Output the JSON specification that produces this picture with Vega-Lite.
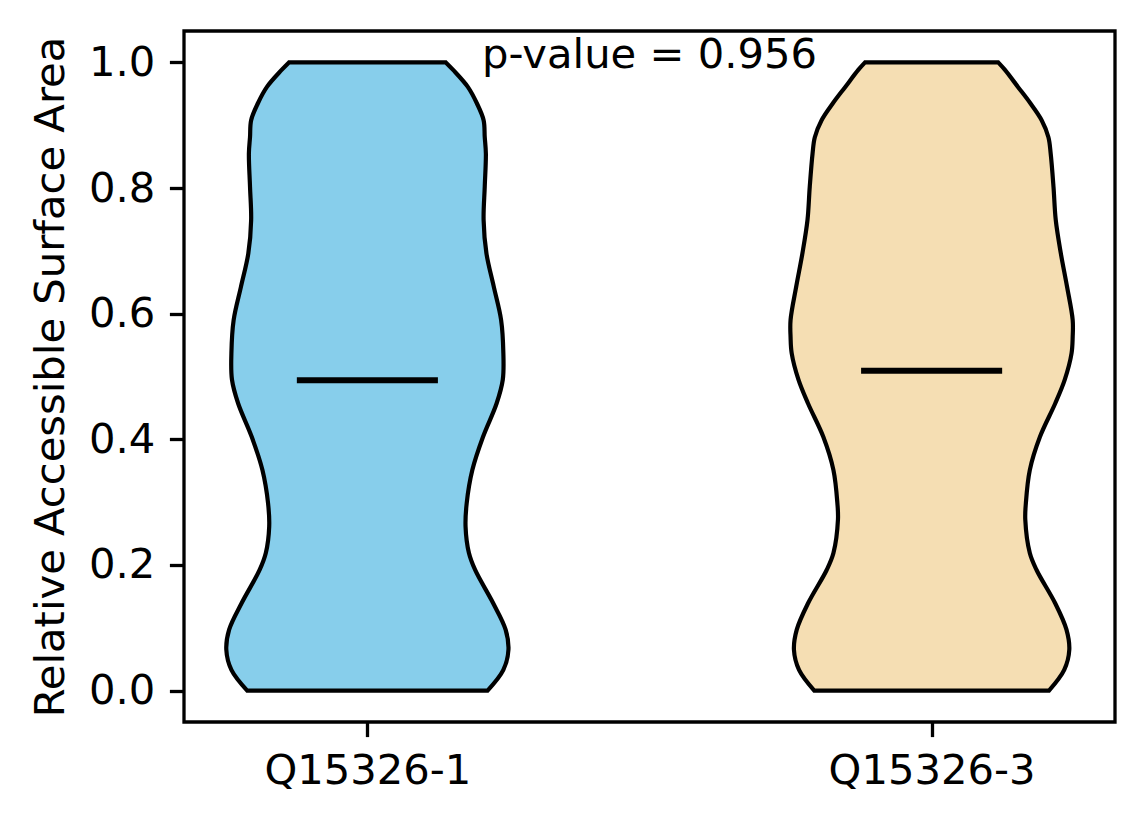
{
  "$schema": "https://vega.github.io/schema/vega-lite/v6.json",
  "width": 931,
  "height": 691,
  "autosize": {"type": "none"},
  "padding": {"left": 184, "top": 31, "right": 29, "bottom": 102},
  "background": "white",
  "config": {
    "view": {"stroke": "black", "strokeWidth": 3.3},
    "font": "DejaVu Sans",
    "axis": {
      "grid": false,
      "domain": false,
      "tickColor": "black",
      "tickSize": 14.6,
      "tickWidth": 3.3,
      "labelColor": "black",
      "labelFont": "DejaVu Sans",
      "labelFontSize": 41.7,
      "labelLimit": 0,
      "titleFont": "DejaVu Sans",
      "titleFontSize": 41.7,
      "titleFontWeight": "normal",
      "titleColor": "black",
      "titleLimit": 0
    }
  },
  "datasets": {
    "violins": [
      {"group": "Q15326-1", "rsa": 1.0, "lo": 0.861, "hi": 1.139},
      {"group": "Q15326-1", "rsa": 0.988, "lo": 0.848, "hi": 1.152},
      {"group": "Q15326-1", "rsa": 0.961, "lo": 0.822, "hi": 1.178},
      {"group": "Q15326-1", "rsa": 0.935, "lo": 0.806, "hi": 1.194},
      {"group": "Q15326-1", "rsa": 0.908, "lo": 0.794, "hi": 1.206},
      {"group": "Q15326-1", "rsa": 0.881, "lo": 0.792, "hi": 1.208},
      {"group": "Q15326-1", "rsa": 0.855, "lo": 0.790, "hi": 1.210},
      {"group": "Q15326-1", "rsa": 0.802, "lo": 0.792, "hi": 1.208},
      {"group": "Q15326-1", "rsa": 0.749, "lo": 0.794, "hi": 1.206},
      {"group": "Q15326-1", "rsa": 0.696, "lo": 0.789, "hi": 1.211},
      {"group": "Q15326-1", "rsa": 0.643, "lo": 0.776, "hi": 1.224},
      {"group": "Q15326-1", "rsa": 0.590, "lo": 0.763, "hi": 1.237},
      {"group": "Q15326-1", "rsa": 0.537, "lo": 0.759, "hi": 1.241},
      {"group": "Q15326-1", "rsa": 0.495, "lo": 0.760, "hi": 1.240},
      {"group": "Q15326-1", "rsa": 0.457, "lo": 0.771, "hi": 1.229},
      {"group": "Q15326-1", "rsa": 0.404, "lo": 0.795, "hi": 1.205},
      {"group": "Q15326-1", "rsa": 0.351, "lo": 0.814, "hi": 1.186},
      {"group": "Q15326-1", "rsa": 0.298, "lo": 0.824, "hi": 1.176},
      {"group": "Q15326-1", "rsa": 0.261, "lo": 0.826, "hi": 1.174},
      {"group": "Q15326-1", "rsa": 0.219, "lo": 0.820, "hi": 1.180},
      {"group": "Q15326-1", "rsa": 0.192, "lo": 0.809, "hi": 1.191},
      {"group": "Q15326-1", "rsa": 0.139, "lo": 0.777, "hi": 1.223},
      {"group": "Q15326-1", "rsa": 0.097, "lo": 0.755, "hi": 1.245},
      {"group": "Q15326-1", "rsa": 0.065, "lo": 0.750, "hi": 1.250},
      {"group": "Q15326-1", "rsa": 0.033, "lo": 0.759, "hi": 1.241},
      {"group": "Q15326-1", "rsa": 0.0, "lo": 0.787, "hi": 1.213},
      {"group": "Q15326-3", "rsa": 1.0, "lo": 1.882, "hi": 2.118},
      {"group": "Q15326-3", "rsa": 0.988, "lo": 1.870, "hi": 2.130},
      {"group": "Q15326-3", "rsa": 0.961, "lo": 1.847, "hi": 2.153},
      {"group": "Q15326-3", "rsa": 0.935, "lo": 1.825, "hi": 2.175},
      {"group": "Q15326-3", "rsa": 0.908, "lo": 1.805, "hi": 2.195},
      {"group": "Q15326-3", "rsa": 0.881, "lo": 1.793, "hi": 2.207},
      {"group": "Q15326-3", "rsa": 0.855, "lo": 1.789, "hi": 2.211},
      {"group": "Q15326-3", "rsa": 0.802, "lo": 1.784, "hi": 2.216},
      {"group": "Q15326-3", "rsa": 0.749, "lo": 1.780, "hi": 2.220},
      {"group": "Q15326-3", "rsa": 0.696, "lo": 1.771, "hi": 2.229},
      {"group": "Q15326-3", "rsa": 0.643, "lo": 1.760, "hi": 2.240},
      {"group": "Q15326-3", "rsa": 0.590, "lo": 1.750, "hi": 2.250},
      {"group": "Q15326-3", "rsa": 0.563, "lo": 1.750, "hi": 2.250},
      {"group": "Q15326-3", "rsa": 0.537, "lo": 1.752, "hi": 2.248},
      {"group": "Q15326-3", "rsa": 0.495, "lo": 1.764, "hi": 2.236},
      {"group": "Q15326-3", "rsa": 0.457, "lo": 1.781, "hi": 2.219},
      {"group": "Q15326-3", "rsa": 0.404, "lo": 1.808, "hi": 2.192},
      {"group": "Q15326-3", "rsa": 0.351, "lo": 1.826, "hi": 2.174},
      {"group": "Q15326-3", "rsa": 0.298, "lo": 1.833, "hi": 2.167},
      {"group": "Q15326-3", "rsa": 0.272, "lo": 1.834, "hi": 2.166},
      {"group": "Q15326-3", "rsa": 0.219, "lo": 1.826, "hi": 2.174},
      {"group": "Q15326-3", "rsa": 0.192, "lo": 1.814, "hi": 2.186},
      {"group": "Q15326-3", "rsa": 0.139, "lo": 1.781, "hi": 2.219},
      {"group": "Q15326-3", "rsa": 0.097, "lo": 1.761, "hi": 2.239},
      {"group": "Q15326-3", "rsa": 0.065, "lo": 1.756, "hi": 2.244},
      {"group": "Q15326-3", "rsa": 0.033, "lo": 1.765, "hi": 2.235},
      {"group": "Q15326-3", "rsa": 0.0, "lo": 1.792, "hi": 2.208}
    ],
    "medians": [
      {"group": "Q15326-1", "median": 0.494, "lo": 0.875, "hi": 1.125},
      {"group": "Q15326-3", "median": 0.509, "lo": 1.875, "hi": 2.125}
    ],
    "stats": [
      {"label": "p-value = 0.956", "pos": 1.5, "ypos": 0.991}
    ]
  },
  "layer": [
    {
      "data": {"name": "violins"},
      "mark": {
        "type": "area",
        "orient": "horizontal",
        "interpolate": "catmull-rom",
        "stroke": "black",
        "strokeWidth": 4.2,
        "fillOpacity": 1
      },
      "encoding": {
        "y": {
          "field": "rsa",
          "type": "quantitative",
          "scale": {"domain": [-0.05, 1.05], "nice": false, "zero": false},
          "axis": {
            "values": [0, 0.2, 0.4, 0.6, 0.8, 1.0],
            "format": ".1f",
            "labelPadding": 14.6,
            "titlePadding": 16,
            "title": "Relative Accessible Surface Area"
          }
        },
        "x": {
          "field": "lo",
          "type": "quantitative",
          "scale": {"domain": [0.675, 2.325], "nice": false, "zero": false},
          "axis": {
            "values": [1, 2],
            "labelExpr": "datum.value == 1 ? 'Q15326-1' : 'Q15326-3'",
            "labelPadding": 14,
            "title": null
          }
        },
        "x2": {"field": "hi"},
        "color": {
          "field": "group",
          "type": "nominal",
          "scale": {"domain": ["Q15326-1", "Q15326-3"], "range": ["#87CEEB", "#F5DEB3"]},
          "legend": null
        }
      }
    },
    {
      "data": {"name": "medians"},
      "mark": {"type": "rule", "color": "black", "strokeWidth": 6},
      "encoding": {
        "y": {"field": "median", "type": "quantitative"},
        "x": {"field": "lo", "type": "quantitative"},
        "x2": {"field": "hi"}
      }
    },
    {
      "data": {"name": "stats"},
      "mark": {
        "type": "text",
        "font": "DejaVu Sans",
        "fontSize": 41.7,
        "color": "black",
        "align": "center",
        "baseline": "alphabetic"
      },
      "encoding": {
        "x": {"field": "pos", "type": "quantitative"},
        "y": {"field": "ypos", "type": "quantitative"},
        "text": {"field": "label"}
      }
    }
  ]
}
